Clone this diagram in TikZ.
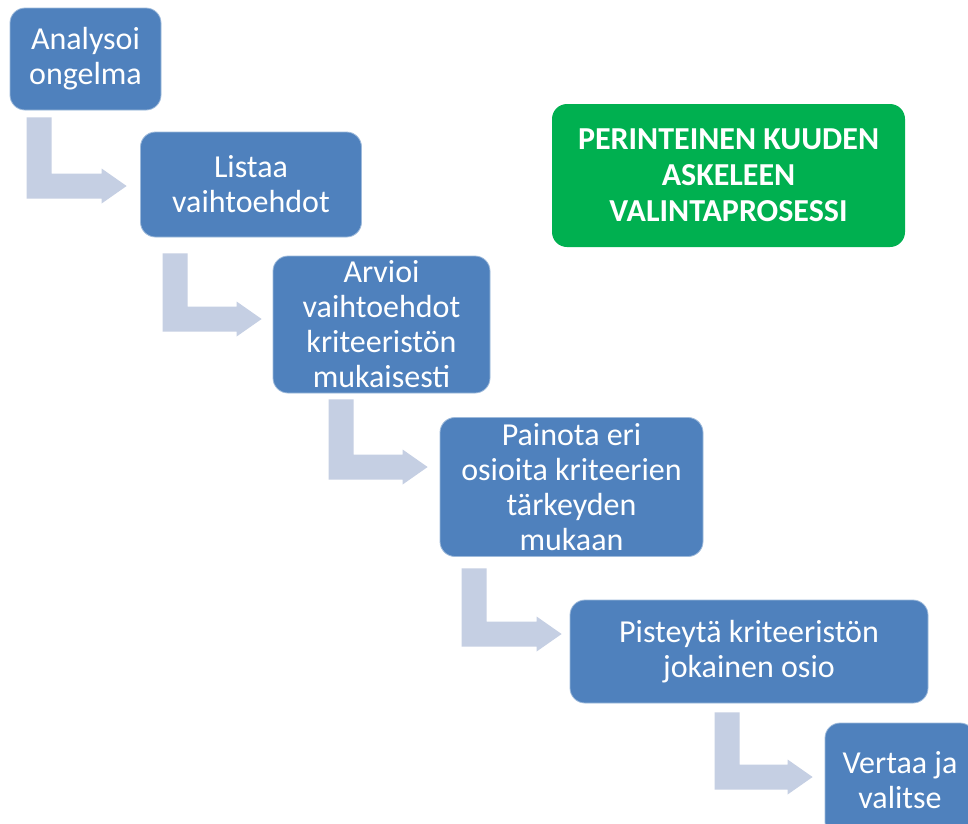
\documentclass[tikz,border=0pt]{standalone}
\usepackage{fontspec}
\setmainfont{Carlito}
\usetikzlibrary{calc}
\definecolor{stepblue}{HTML}{4F81BD}
\definecolor{bendgray}{HTML}{C5CFE3}
\definecolor{titlegreen}{HTML}{00B050}
\tikzset{
  stepbox/.style={rounded corners=15pt, fill=stepblue, draw=white!45!stepblue,
    line width=0.8pt, text=white, align=center, inner sep=0pt,
    font=\fontsize{32}{35}\selectfont},
  titlebox/.style={rounded corners=15pt, fill=titlegreen, text=white, align=center,
    inner sep=0pt, font=\bfseries\fontsize{32}{36}\selectfont},
}
% bent block arrow: #1 = top-left corner of the stem, #2 = arrow tip
\newcommand{\bentarrow}[2]{%
  \fill[bendgray] let \p1=#1, \p2=#2 in
    (\x1,\y1) -- (\x1+25pt,\y1) -- (\x1+25pt,\y2+12.5pt)
    -- (\x2-25pt,\y2+12.5pt) -- (\x2-25pt,\y2+17.5pt) -- (\x2,\y2)
    -- (\x2-25pt,\y2-17.5pt) -- (\x2-25pt,\y2-12.5pt)
    -- (\x1,\y2-12.5pt) -- cycle;}
\begin{document}
\begin{tikzpicture}[x=1pt,y=-1pt]
  \clip (0,0) rectangle (968,823);
  \fill[white] (0,0) rectangle (968,823);

  % process steps
  \node[stepbox, minimum width=151pt, minimum height=102pt] (b1) at (85.5,59) {Analysoi\\ongelma};
  \node[stepbox, minimum width=221pt, minimum height=105pt] (b2) at (251,184.5) {Listaa\\vaihtoehdot};
  \node[stepbox, minimum width=217pt, minimum height=137pt] (b3) at (381.5,324.5) {Arvioi\\vaihtoehdot\\kriteeristön\\mukaisesti};
  \node[stepbox, minimum width=263pt, minimum height=139pt] (b4) at (571.5,487) {Painota eri\\osioita kriteerien\\tärkeyden\\mukaan};
  \node[stepbox, minimum width=358pt, minimum height=103pt] (b5) at (749,651.5) {Pisteytä kriteeristön\\jokainen osio};
  \node[stepbox, minimum width=150pt, minimum height=114pt] (b6) at (900,780) {Vertaa ja\\valitse};

  % title
  \node[titlebox, minimum width=353pt, minimum height=143pt] (title) at (728.5,175.5)
    {PERINTEINEN KUUDEN\\ASKELEEN\\VALINTAPROSESSI};

  % connectors between the steps
  \bentarrow{($(b1.south west)+(17,7)$)}{($(b2.west)+(-13.5,1.5)$)}
  \bentarrow{($(b2.south west)+(22.5,16)$)}{($(b3.west)+(-11,-5.5)$)}
  \bentarrow{($(b3.south west)+(56,6)$)}{($(b4.west)+(-12,-20)$)}
  \bentarrow{($(b4.south west)+(22,11.5)$)}{($(b5.west)+(-8,-17.5)$)}
  \bentarrow{($(b5.south west)+(145,9)$)}{($(b6.west)+(-12,-3)$)}
\end{tikzpicture}
\end{document}
